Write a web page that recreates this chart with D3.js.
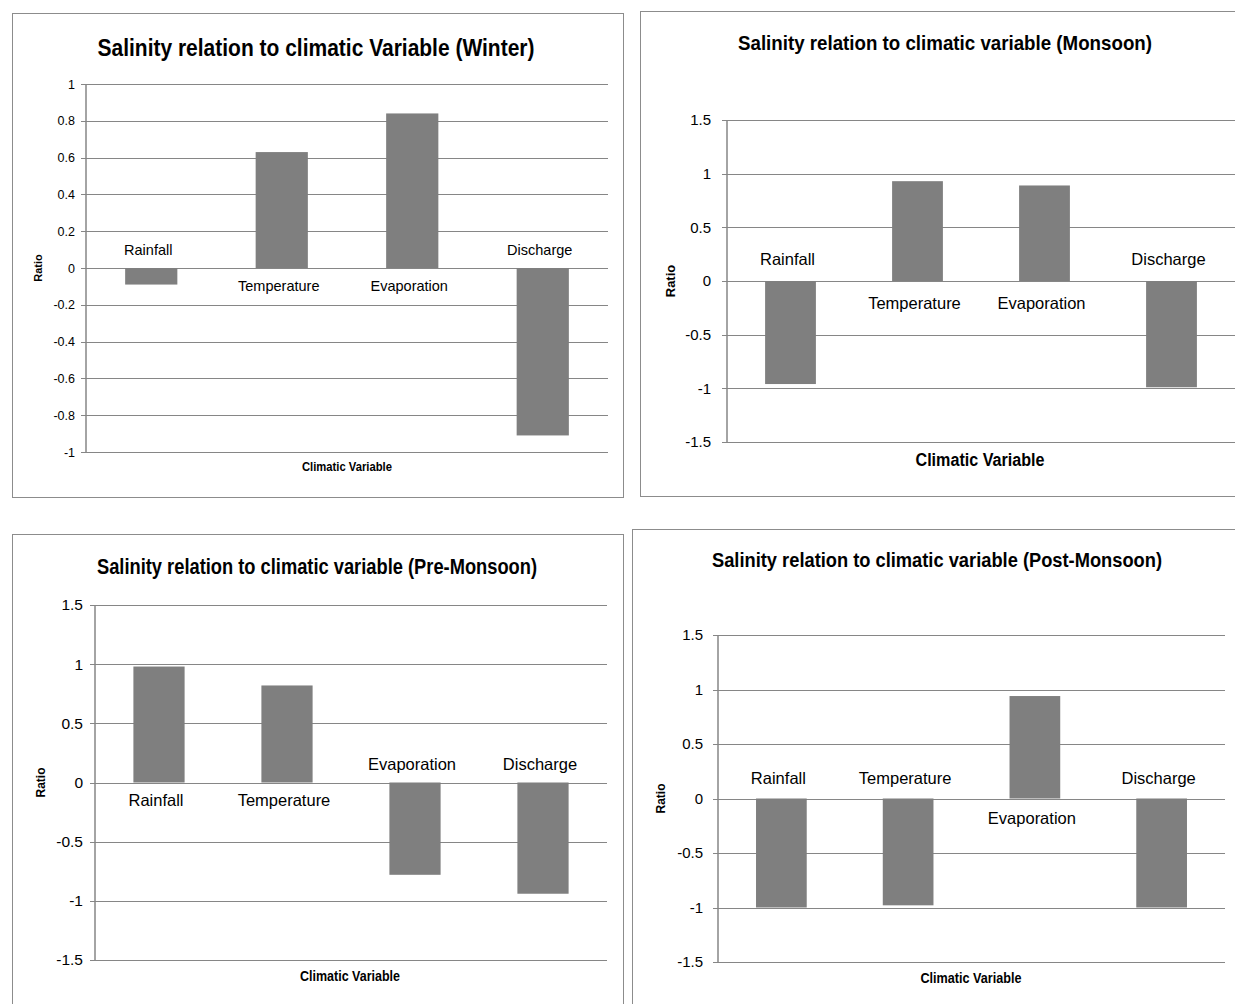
<!DOCTYPE html>
<html>
<head>
<meta charset="utf-8">
<script src="https://cdn.jsdelivr.net/npm/d3@7"></script>
<style>
  html, body { margin: 0; padding: 0; background: #fff; }
  svg { display: block; }
  text { font-family: "Liberation Sans Narrow", "Liberation Sans", Arial, sans-serif; fill: #000; }
</style>
</head>
<body>
<svg id="chart" width="1235" height="1004"></svg>
<script>
// ---- data ----
const categories = ["Rainfall", "Temperature", "Evaporation", "Discharge"];
const titles = [
  "Salinity relation to climatic Variable (Winter)",
  "Salinity relation to climatic variable (Monsoon)",
  "Salinity relation to climatic variable (Pre-Monsoon)",
  "Salinity relation to climatic variable (Post-Monsoon)"
];
const winterValues = [-0.09, 0.63, 0.84, -0.91];
const monsoonValues = [-0.96, 0.93, 0.89, -0.99];
const preMonsoonValues = [0.98, 0.82, -0.78, -0.94];
const postMonsoonValues = [-1.0, -0.98, 0.94, -1.0];
const winterTicks = [1, 0.8, 0.6, 0.4, 0.2, 0, -0.2, -0.4, -0.6, -0.8, -1];
const seasonTicks = [1.5, 1, 0.5, 0, -0.5, -1, -1.5];
const yAxisTitle = "Ratio";
const xAxisTitle = "Climatic Variable";

// ---- layout (positions / styles) ----
const panels = [
  { values: winterValues, ticks: winterTicks, domain: [-1, 1], title: titles[0],
    frame: [12, 13, 611, 484], plot: [86, 608, 84, 452],
    titleX: 316, titleY: 56, titleSize: 24, titleLen: 437,
    tickSize: 12.5, tickPad: 11, labelSize: 14.5, labelOff: 18,
    ratioX: 38, ratioSize: 11, xtX: 347, xtY: 471, xtSize: 12.5, xtLen: 90 },
  { values: monsoonValues, ticks: seasonTicks, domain: [-1.5, 1.5], title: titles[1],
    frame: [640, 11, 600, 485], plot: [727, 1235, 120, 442],
    titleX: 945, titleY: 50, titleSize: 20.5, titleLen: 414,
    tickSize: 15, tickPad: 16, labelSize: 16.5, labelOff: 22,
    ratioX: 670, ratioSize: 13, xtX: 980, xtY: 466, xtSize: 17.5, xtLen: 129 },
  { values: preMonsoonValues, ticks: seasonTicks, domain: [-1.5, 1.5], title: titles[2],
    frame: [12, 534, 611, 475], plot: [95, 607, 605, 960],
    titleX: 317, titleY: 574, titleSize: 21.5, titleLen: 440,
    tickSize: 15.5, tickPad: 12, labelSize: 16.5, labelOff: 18,
    ratioX: 41, ratioSize: 12, xtX: 350, xtY: 981, xtSize: 14.5, xtLen: 100 },
  { values: postMonsoonValues, ticks: seasonTicks, domain: [-1.5, 1.5], title: titles[3],
    frame: [632, 529, 610, 480], plot: [718, 1225, 635, 962],
    titleX: 937, titleY: 567, titleSize: 20, titleLen: 450,
    tickSize: 15, tickPad: 15, labelSize: 16.5, labelOff: 20,
    ratioX: 661, ratioSize: 12, xtX: 971, xtY: 983, xtSize: 14.5, xtLen: 101 }
];

const GRID = "#868686";
const BAR = "#7f7f7f";
const FRAME = "#8c8c8c";

const svg = d3.select("#chart");

panels.forEach(p => {
  const g = svg.append("g");
  const [fx, fy, fw, fh] = p.frame;
  g.append("rect").attr("x", fx + 0.5).attr("y", fy + 0.5).attr("width", fw).attr("height", fh)
    .attr("fill", "#fff").attr("stroke", FRAME).attr("stroke-width", 1);

  const [x0, x1, y0, y1] = p.plot;
  const x = d3.scaleBand().domain(categories).range([x0, x1]).paddingInner(0.6).paddingOuter(0.3);
  const y = d3.scaleLinear().domain(p.domain).range([y1, y0]);

  // gridlines + ticks via axis
  const axis = d3.axisLeft(y).tickValues(p.ticks).tickSize(-(x1 - x0)).tickPadding(p.tickPad)
    .tickFormat(d => String(+d.toFixed(2)));
  const ag = g.append("g").attr("transform", `translate(${x0},0)`).call(axis);
  ag.select(".domain").remove();
  ag.selectAll(".tick line").attr("stroke", GRID).attr("stroke-width", 1).attr("x1", -5)
    .attr("shape-rendering", "crispEdges");
  ag.selectAll(".tick text").attr("font-size", p.tickSize).attr("fill", "#000")
    .style("font-family", '"Liberation Sans Narrow", "Liberation Sans", Arial, sans-serif');
  g.append("line").attr("x1", x0).attr("x2", x0).attr("y1", y0).attr("y2", y1)
    .attr("stroke", GRID).attr("stroke-width", 1.5);

  // bars
  g.selectAll("rect.bar").data(p.values).join("rect").attr("class", "bar")
    .attr("x", (d, i) => x(categories[i]))
    .attr("width", x.bandwidth())
    .attr("y", d => y(Math.max(0, d)))
    .attr("height", d => Math.abs(y(d) - y(0)))
    .attr("fill", BAR);

  // category labels (opposite side of zero line)
  g.selectAll("text.lab").data(p.values).join("text").attr("class", "lab")
    .attr("x", (d, i) => x(categories[i]) + x.bandwidth() / 2 - 3)
    .attr("y", d => y(0) + (d < 0 ? -p.labelOff : p.labelOff))
    .attr("dy", "0.35em")
    .attr("text-anchor", "middle")
    .attr("font-size", p.labelSize)
    .text((d, i) => categories[i]);

  // title
  g.append("text").attr("x", p.titleX).attr("y", p.titleY).attr("text-anchor", "middle")
    .attr("font-size", p.titleSize).attr("font-weight", "bold")
    .attr("textLength", p.titleLen).attr("lengthAdjust", "spacingAndGlyphs")
    .text(p.title);

  // y axis title
  g.append("text").attr("transform", `translate(${p.ratioX},${y(0)}) rotate(-90)`)
    .attr("text-anchor", "middle").attr("dy", "0.35em")
    .attr("font-size", p.ratioSize).attr("font-weight", "bold")
    .style("font-family", '"Liberation Sans", Arial, sans-serif')
    .text(yAxisTitle);

  // x axis title
  g.append("text").attr("x", p.xtX).attr("y", p.xtY).attr("text-anchor", "middle")
    .attr("font-size", p.xtSize).attr("font-weight", "bold")
    .attr("textLength", p.xtLen).attr("lengthAdjust", "spacingAndGlyphs")
    .text(xAxisTitle);
});
</script>
</body>
</html>
